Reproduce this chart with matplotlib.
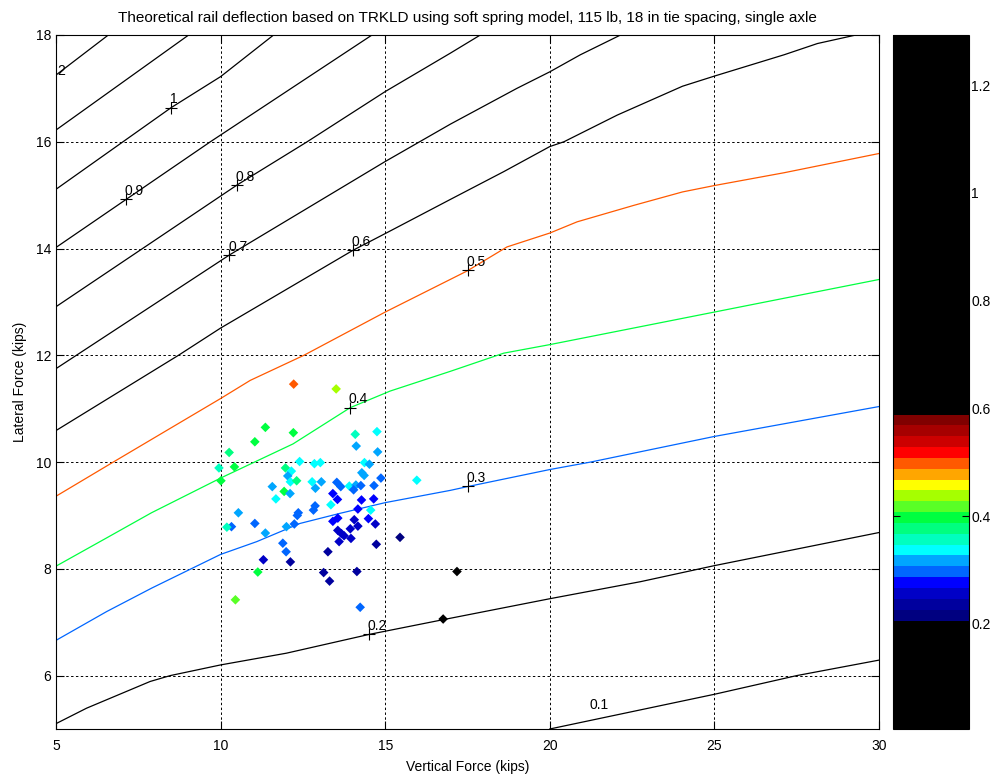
import matplotlib
matplotlib.use("Agg")
import matplotlib.pyplot as plt
from matplotlib.colors import ListedColormap, Normalize
from matplotlib.cm import ScalarMappable

plt.rcParams['font.family'] = ['Liberation Sans', 'DejaVu Sans']
plt.rcParams['font.size'] = 10

# contour lines of theoretical deflection
levels = [0.1, 0.2, 0.3, 0.4, 0.5, 0.6, 0.7, 0.8, 0.9, 1.0, 1.1, 1.2]

l01_x = [20, 25, 27.5, 30]
l01_y = [5.0, 5.65, 6.0, 6.29]
l02_x = [5, 5.93, 7.86, 8.47, 10, 12, 14.5, 16.78, 20, 22.76, 25, 30]
l02_y = [5.10, 5.39, 5.89, 6.0, 6.20, 6.42, 6.77, 7.05, 7.44, 7.76, 8.06, 8.68]
l03_x = [5, 6.54, 7.91, 9.07, 10, 11.1, 12.41, 13.63, 15, 16.98, 17.5, 20, 21.24, 25, 30]
l03_y = [6.66, 7.20, 7.64, 7.99, 8.27, 8.51, 8.85, 9.04, 9.24, 9.47, 9.54, 9.86, 10.0, 10.48, 11.04]
l04_x = [5, 6.54, 7.9, 10, 12.2, 13.94, 15.15, 16.98, 18.6, 20, 25, 30]
l04_y = [8.05, 8.58, 9.05, 9.70, 10.34, 11.02, 11.33, 11.70, 12.04, 12.2, 12.81, 13.42]
l05_x = [5, 6.74, 10, 10.9, 12.53, 15, 17.49, 18.7, 20, 20.83, 22.56, 24.03, 25, 27.12, 30]
l05_y = [9.36, 10.0, 11.19, 11.53, 12.0, 12.81, 13.58, 14.03, 14.29, 14.5, 14.81, 15.06, 15.18, 15.42, 15.78]
l06_x = [5, 8.72, 10, 14.03, 15, 16.98, 18.6, 20, 20.43, 22.05, 24.03, 25, 27.12, 28.13, 29.3]
l06_y = [10.59, 12.0, 12.51, 13.97, 14.28, 14.92, 15.44, 15.91, 16.0, 16.5, 17.04, 17.23, 17.63, 17.84, 18.0]
l07_x = [5, 10.27, 15, 16.98, 19.0, 20, 20.93, 22.15]
l07_y = [11.75, 13.88, 15.63, 16.33, 17.0, 17.31, 17.63, 18.0]
l08_x = [5, 10.5, 12.63, 15, 16.98, 17.89]
l08_y = [12.91, 15.19, 16.0, 16.94, 17.66, 18.0]
l09_x = [5, 7.13, 9.69, 14.6]
l09_y = [14.02, 14.92, 16.0, 18.0]
l10_x = [5, 8.5, 10, 11.61]
l10_y = [15.11, 16.64, 17.22, 18.0]
l11_x = [5, 9.03]
l11_y = [16.22, 18.0]
l12_x = [5, 6.59]
l12_y = [17.25, 18.0]

# clabel positions
lab_text = ['0.2', '0.3', '0.4', '0.5', '0.6', '0.7', '0.8', '0.9', '1']
lab_x = [14.5, 17.5, 13.92, 17.5, 14.03, 10.27, 10.5, 7.13, 8.5]
lab_y = [6.77, 9.55, 11.02, 13.59, 13.97, 13.88, 15.19, 14.92, 16.64]

# measured points: vertical force, lateral force, deflection
pt_x = [12.22, 13.51, 11.36, 12.21, 11.04, 10.26, 10.42, 9.95, 10.01, 14.09,
        14.75, 14.12, 14.77, 12.40, 12.85, 13.03, 11.97, 12.15, 12.04, 12.12,
        12.31, 14.37, 14.52, 14.29, 14.36, 14.87, 12.78, 13.06, 12.88, 11.57,
        13.53, 13.65, 13.91, 14.11, 14.26, 14.66, 14.04, 15.96, 11.93, 12.11,
        11.68, 13.41, 13.55, 13.35, 14.28, 14.65, 12.87, 12.82, 14.17, 14.56,
        10.54, 12.36, 12.33, 13.56, 13.41, 14.06, 14.49, 14.70, 14.17, 13.94,
        13.56, 13.67, 13.75, 13.60, 13.96, 14.73, 15.45, 11.04, 10.33, 10.19,
        11.36, 12.00, 12.24, 11.89, 11.99, 11.30, 12.12, 13.26, 11.13, 13.13,
        14.14, 13.31, 10.45, 14.24, 17.18, 16.76]
pt_y = [11.46, 11.37, 10.65, 10.55, 10.38, 10.18, 9.91, 9.89, 9.65, 10.52,
        10.57, 10.30, 10.19, 10.01, 9.97, 9.99, 9.89, 9.83, 9.74, 9.63,
        9.65, 9.99, 9.96, 9.80, 9.75, 9.70, 9.63, 9.63, 9.51, 9.54,
        9.62, 9.54, 9.55, 9.57, 9.56, 9.56, 9.48, 9.66, 9.45, 9.41,
        9.31, 9.41, 9.30, 9.20, 9.29, 9.31, 9.18, 9.10, 9.12, 9.10,
        9.05, 9.05, 9.00, 8.95, 8.89, 8.92, 8.94, 8.84, 8.80, 8.75,
        8.72, 8.66, 8.62, 8.51, 8.57, 8.46, 8.59, 8.85, 8.79, 8.78,
        8.67, 8.79, 8.84, 8.48, 8.32, 8.17, 8.13, 8.32, 7.94, 7.93,
        7.95, 7.77, 7.42, 7.28, 7.95, 7.06]
pt_v = [0.49, 0.43, 0.39, 0.39, 0.39, 0.37, 0.39, 0.35, 0.39, 0.35,
        0.33, 0.31, 0.31, 0.33, 0.33, 0.33, 0.37, 0.33, 0.31, 0.33,
        0.37, 0.33, 0.31, 0.31, 0.31, 0.29, 0.33, 0.31, 0.31, 0.31,
        0.29, 0.29, 0.33, 0.31, 0.29, 0.29, 0.29, 0.33, 0.39, 0.31,
        0.33, 0.27, 0.27, 0.33, 0.27, 0.27, 0.29, 0.29, 0.27, 0.33,
        0.31, 0.29, 0.29, 0.27, 0.27, 0.25, 0.27, 0.25, 0.25, 0.25,
        0.25, 0.25, 0.25, 0.25, 0.25, 0.23, 0.21, 0.29, 0.29, 0.35,
        0.31, 0.31, 0.29, 0.29, 0.29, 0.25, 0.23, 0.23, 0.39, 0.23,
        0.23, 0.23, 0.41, 0.29, 0.15, 0.17]

# colormap: 64 entries, black except a jet-like band from 0.2 to ~0.59
band = [(0, 0, 0.5), (0, 0, 0.62), (0, 0, 0.78), (0, 0, 1), (0, 0.4, 1),
        (0, 0.65, 1), (0, 1, 1), (0, 1, 0.75), (0, 1, 0.5), (0, 1, 0.25),
        (0.35, 1, 0.15), (0.65, 1, 0), (1, 1, 0), (1, 0.65, 0), (1, 0.35, 0),
        (1, 0, 0), (0.8, 0, 0), (0.65, 0, 0), (0.5, 0, 0)]
colors = [(0, 0, 0)] * 10 + band + [(0, 0, 0)] * (64 - 10 - len(band))
cmap = ListedColormap(colors)
norm = Normalize(0.005, 1.293)

fig = plt.figure(figsize=(10, 7.81), dpi=100)
ax = fig.add_axes([0.056, 0.0666, 0.823, 0.8886])
cax = fig.add_axes([0.893, 0.0666, 0.0755, 0.8886])

line_x = [l01_x, l02_x, l03_x, l04_x, l05_x, l06_x, l07_x, l08_x, l09_x, l10_x, l11_x, l12_x]
line_y = [l01_y, l02_y, l03_y, l04_y, l05_y, l06_y, l07_y, l08_y, l09_y, l10_y, l11_y, l12_y]
for lev, lx, ly in zip(levels, line_x, line_y):
    ax.plot(lx, ly, color=cmap(norm(lev)), lw=0.9, zorder=2)

# contour labels, matlab clabel style
for t, x, y in zip(lab_text, lab_x, lab_y):
    ax.plot(x, y, 'k+', ms=8, mew=0.8, zorder=4)
    ax.annotate(t, (x, y), xytext=(-1, 3), textcoords='offset points',
                ha='left', va='baseline', fontsize=10, zorder=4)
ax.text(5.05, 17.33, '2', ha='left', va='center', fontsize=10)
ax.text(21.49, 5.44, '0.1', ha='center', va='center', fontsize=10)

ax.scatter(pt_x, pt_y, c=pt_v, cmap=cmap, norm=norm, marker='D', s=24,
           edgecolors='none', zorder=3)

ax.set_xlim(5, 30)
ax.set_ylim(5, 18)
ax.set_xticks([5, 10, 15, 20, 25, 30])
ax.set_yticks([6, 8, 10, 12, 14, 16, 18])
ax.grid(True, color='k', ls=(0, (2.5, 2.5)), lw=0.7)
ax.set_axisbelow(True)
ax.tick_params(direction='in', length=6, top=True, right=True, labelsize=10)
ax.tick_params(axis='x', pad=7)
for s in ax.spines.values():
    s.set_linewidth(0.8)
ax.set_xlabel('Vertical Force (kips)', fontsize=10, labelpad=5)
ax.set_ylabel('Lateral Force (kips)', fontsize=10, labelpad=6)
ax.set_title('Theoretical rail deflection based on TRKLD using soft spring model, '
             '115 lb, 18 in tie spacing, single axle', fontsize=11, pad=9)

sm = ScalarMappable(norm=norm, cmap=cmap)
cb = fig.colorbar(sm, cax=cax)
cb.set_ticks([0.2, 0.4, 0.6, 0.8, 1.0, 1.2])
cb.set_ticklabels(['0.2', '0.4', '0.6', '0.8', '1', '1.2'])
cax.tick_params(direction='in', length=5, left=True, right=True, labelsize=10, pad=2)
cb.outline.set_linewidth(0.8)

fig.savefig('out.png', dpi=100, facecolor='white')
